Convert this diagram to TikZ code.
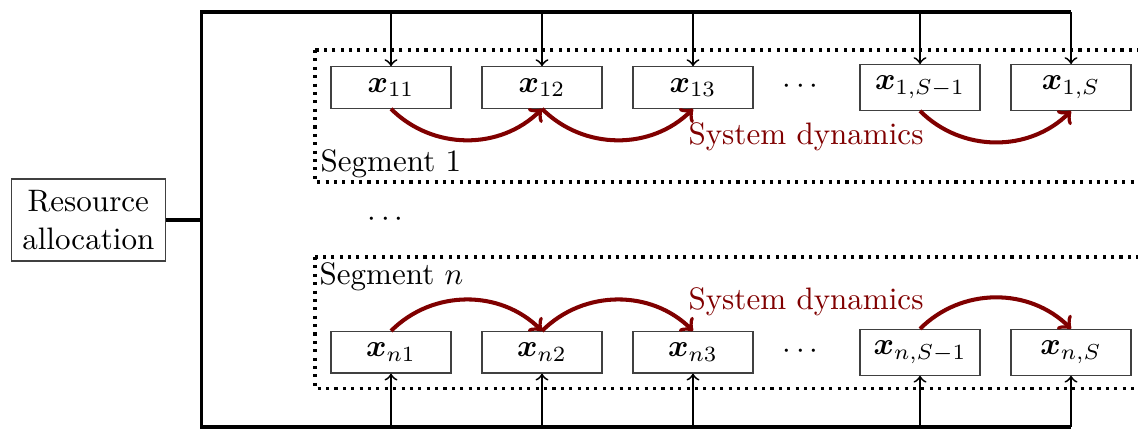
\documentclass[tikz,border=0pt]{standalone}
\usepackage{amsmath,bm}
\definecolor{dynred}{RGB}{128,0,0}
\begin{document}
\begin{tikzpicture}[x=0.322pt,y=-0.322pt,
  state/.style={draw=black!75, line width=0.4pt, minimum width=38.6pt, inner sep=3.7pt},
  bus/.style={line width=1.2pt},
  feed/.style={->, line width=0.6pt},
  dyn/.style={->, line width=1.3pt, draw=dynred},
  seg/.style={line width=1.1pt, dash pattern=on 1pt off 1.7pt},
  lbl/.style={inner sep=0pt, anchor=base west},
  dots/.style={inner sep=0pt, anchor=base},
  dyntext/.style={inner sep=0pt, anchor=base, text=dynred}]
\useasboundingbox (0,0) rectangle (1138,429);
\clip (0,0) rectangle (1138,429);

% segment frames
\draw[seg] (315,50) rectangle (1170,182);
\draw[seg] (315,257) rectangle (1170,388.5);

% resource allocation
\node[state, align=center, inner xsep=3.5pt] (ra) at (88.3,220) {Resource\\allocation};

% segment 1 states
\node[state] (a1) at (391,87.5) {$\bm{x}_{11}$};
\node[state] (a2) at (542,87.5) {$\bm{x}_{12}$};
\node[state] (a3) at (693,87.5) {$\bm{x}_{13}$};
\node[state] (a4) at (920,87.5) {$\bm{x}_{1,S-1}$};
\node[state] (a5) at (1071,87.5) {$\bm{x}_{1,S}$};
\node[dots] (da) at (803,93.5) {$\cdots$};

% segment n states
\node[state] (b1) at (391,352.3) {$\bm{x}_{n1}$};
\node[state] (b2) at (542,352.3) {$\bm{x}_{n2}$};
\node[state] (b3) at (693,352.3) {$\bm{x}_{n3}$};
\node[state] (b4) at (920,352.3) {$\bm{x}_{n,S-1}$};
\node[state] (b5) at (1071,352.3) {$\bm{x}_{n,S}$};
\node[dots] (db) at (803,358.5) {$\cdots$};

\node[dots] (dm) at (388,226.5) {$\cdots$};

% labels
\node[lbl] (s1) at (320,172) {Segment 1};
\node[lbl] (sn) at (319,285) {Segment $n$};
\node[dyntext] (sd1) at (806,145) {System dynamics};
\node[dyntext] (sd2) at (806,310) {System dynamics};

% bus
\coordinate (jt) at (201.5,12.3);
\coordinate (jb) at (201.5,427.3);
\draw[bus] (ra.east) -- (ra.east -| jt);
\draw[bus] (a5.north |- jt) -- (jt) -- (jb) -- (b5.south |- jb);
\foreach \n in {a1,a2,a3,a4,a5} \draw[feed] (\n.north |- jt) -- (\n.north);
\foreach \n in {b1,b2,b3,b4,b5} \draw[feed] (\n.south |- jb) -- (\n.south);

% dynamics
\draw[dyn] (a1.south) to[bend right=45] (a2.south);
\draw[dyn] (a2.south) to[bend right=45] (a3.south);
\draw[dyn] (a4.south) to[bend right=45] (a5.south);
\draw[dyn] (b1.north) to[bend left=45] (b2.north);
\draw[dyn] (b2.north) to[bend left=45] (b3.north);
\draw[dyn] (b4.north) to[bend left=45] (b5.north);
\end{tikzpicture}
\end{document}
